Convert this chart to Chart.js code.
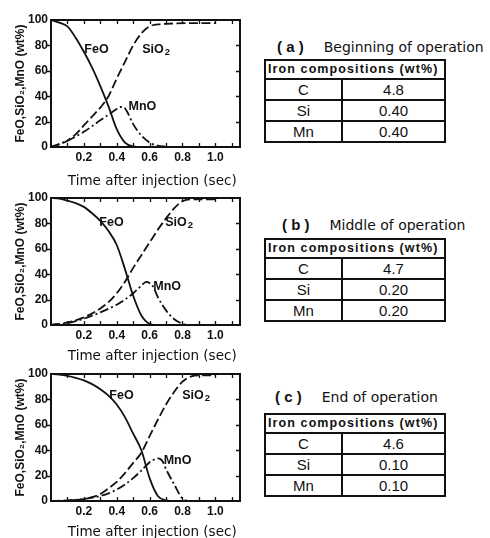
<!DOCTYPE html>
<html lang="en">
<head>
<meta charset="UTF-8">
<title>Slag composition after injection</title>
<script src="https://cdn.jsdelivr.net/npm/chart.js@4.4.0/dist/chart.umd.min.js"></script>
<style>
  body {
    margin: 0;
    width: 490px;
    height: 538px;
    position: relative;
    overflow: hidden;
    background: #fff;
    color: #111;
    font-family: "Liberation Sans", Arial, sans-serif;
  }
  .plot { position: absolute; left: 0; }
  .caption {
    position: absolute;
    font-family: "DejaVu Sans", sans-serif;
    font-size: 14px;
    white-space: nowrap;
    line-height: 18px;
  }
  .caption b { font-family: "Liberation Sans", Arial, sans-serif; font-size: 15px; margin-right: 20px; }
  table.comp {
    position: absolute;
    left: 264px;
    width: 182px;
    border-collapse: collapse;
    border: 2px solid #111;
  }
  table.comp td {
    border: 2px solid #111;
    padding: 0;
    text-align: center;
    font-size: 15px;
    line-height: 17px;
    height: 19px;
    white-space: nowrap;
  }
  table.comp td.head {
    font-weight: bold;
    font-size: 12.5px;
    letter-spacing: 1.1px;
    text-align: left;
    padding-left: 2px;
    height: 16px;
  }
  table.comp td.el { width: 75px; }
</style>
</head>
<body>

<canvas id="chartA" class="plot" width="245" height="190" style="top:0px"></canvas>
<canvas id="chartB" class="plot" width="245" height="187" style="top:178px"></canvas>
<canvas id="chartC" class="plot" width="245" height="187" style="top:354px"></canvas>

<script>
// slag composition (wt%) vs time after injection (sec), as [t, value] pairs
const feoA  = [[0,100],[0.05,98],[0.1,95],[0.15,86],[0.2,75],[0.25,62.5],[0.3,48],[0.35,32],[0.4,14],[0.45,3.5],[0.5,0.5],[0.55,0],[1.0,0]];
const sio2A = [[0,0],[0.05,2],[0.1,5],[0.15,10],[0.2,17],[0.25,24],[0.3,31],[0.35,40],[0.4,54],[0.45,67],[0.5,80],[0.55,89.5],[0.6,95],[0.65,96.5],[0.7,97],[0.85,97.5],[1.0,97.5]];
const mnoA  = [[0,0],[0.1,5],[0.2,12],[0.3,21],[0.35,25.5],[0.4,30],[0.42,31.5],[0.44,31.5],[0.46,28.5],[0.5,18],[0.55,9],[0.6,3.5],[0.65,1],[0.7,0.3],[0.75,0],[1.0,0]];

const feoB  = [[0,100],[0.05,99.5],[0.1,98],[0.15,96],[0.2,93],[0.25,88],[0.3,82],[0.35,74],[0.4,63],[0.45,44],[0.5,23],[0.55,7.5],[0.6,1],[0.65,0],[1.0,0]];
const sio2B = [[0,0],[0.1,2],[0.2,6],[0.3,13],[0.35,18],[0.4,25],[0.45,34],[0.5,45],[0.55,55],[0.6,65],[0.65,75],[0.7,84],[0.75,92],[0.8,97.5],[0.85,99],[1.0,99]];
const mnoB  = [[0,0],[0.1,1.5],[0.2,5],[0.3,10],[0.4,16],[0.45,20],[0.5,25],[0.55,31],[0.58,34],[0.6,33],[0.62,30.5],[0.65,22],[0.7,11.5],[0.75,4.5],[0.8,1],[0.85,0],[1.0,0]];

const feoC  = [[0,100],[0.05,99.5],[0.1,98.5],[0.15,97],[0.2,95],[0.25,92],[0.3,88],[0.35,83],[0.4,76],[0.45,66],[0.5,53],[0.55,40],[0.6,18],[0.65,4],[0.7,0.5],[0.75,0],[1.0,0]];
const sio2C = [[0,0],[0.1,0.5],[0.2,1.5],[0.25,3],[0.3,5.5],[0.35,10],[0.4,15],[0.45,22],[0.5,30],[0.55,38],[0.6,51],[0.65,64],[0.7,76],[0.75,86],[0.8,94],[0.85,98],[0.9,99],[1.0,99]];
const mnoC  = [[0,0],[0.1,0.3],[0.2,1.5],[0.3,4],[0.35,6],[0.4,9],[0.45,13],[0.5,18],[0.55,24],[0.6,30.5],[0.625,32.5],[0.65,33.5],[0.675,32],[0.7,25],[0.75,13],[0.8,2],[0.85,0],[1.0,0]];

// curve names, placed at [t, wt%]
const tagsA = [['FeO',0.277,77],['SiO₂',0.64,77],['MnO',0.556,31.6]];
const tagsB = [['FeO',0.368,81],['SiO₂',0.78,81],['MnO',0.707,30]];
const tagsC = [['FeO',0.429,83],['SiO₂',0.883,83],['MnO',0.77,32]];

// iron composition tables
const elements = ['C', 'Si', 'Mn'];
const ironA = ['4.8', '0.40', '0.40'];
const ironB = ['4.7', '0.20', '0.20'];
const ironC = ['4.6', '0.10', '0.10'];

const xTickLabels = [0.2, 0.4, 0.6, 0.8, 1.0];
const yTickLabels = [0, 20, 40, 60, 80, 100];

const INK = '#111';
const SANS = '"Liberation Sans", Arial, sans-serif';

// frame with small ticks: inward on top/right/bottom, outward on the left
const framePlugin = {
  id: 'frame',
  afterDraw(chart) {
    const { ctx, chartArea: a, scales: { x, y } } = chart;
    ctx.save();
    ctx.strokeStyle = INK;
    ctx.lineWidth = 2;
    ctx.strokeRect(a.left, a.top, a.right - a.left, a.bottom - a.top);
    ctx.lineWidth = 1.3;
    ctx.beginPath();
    for (let k = 1; k <= 11; k++) {
      const px = Math.round(x.getPixelForValue(k / 10)) + 0.5;
      ctx.moveTo(px, a.top); ctx.lineTo(px, a.top + 4);
      ctx.moveTo(px, a.bottom); ctx.lineTo(px, a.bottom - 4);
    }
    for (let v = 20; v < 100; v += 20) {
      const py = Math.round(y.getPixelForValue(v)) + 0.5;
      ctx.moveTo(a.left, py); ctx.lineTo(a.left - 4, py);
      ctx.moveTo(a.right, py); ctx.lineTo(a.right - 4, py);
    }
    ctx.stroke();
    ctx.restore();
  }
};

// curve names next to the lines
const tagPlugin = {
  id: 'tags',
  afterDatasetsDraw(chart, args, opts) {
    const { ctx, scales: { x, y } } = chart;
    ctx.save();
    ctx.fillStyle = INK;
    ctx.textBaseline = 'middle';
    ctx.textAlign = 'left';
    opts.items.forEach(([text, t, v]) => {
      const cx = x.getPixelForValue(t);
      const cy = y.getPixelForValue(v);
      let base = text, sub = '';
      if (text.endsWith('₂')) { base = text.slice(0, -1); sub = '2'; }
      ctx.font = 'bold 12.5px ' + SANS;
      const w1 = ctx.measureText(base).width;
      ctx.font = 'bold 9.5px ' + SANS;
      const w2 = sub ? ctx.measureText(sub).width + 1 : 0;
      const x0 = cx - (w1 + w2) / 2;
      ctx.font = 'bold 12.5px ' + SANS;
      ctx.fillText(base, x0, cy);
      if (sub) {
        ctx.font = 'bold 9.5px ' + SANS;
        ctx.fillText(sub, x0 + w1 + 1, cy + 3);
      }
    });
    ctx.restore();
  }
};

function line(points, dash) {
  return {
    data: points.map(([t, v]) => ({ x: t, y: v })),
    borderColor: INK,
    borderWidth: 1.8,
    borderDash: dash,
    pointRadius: 0,
    fill: false,
    cubicInterpolationMode: 'monotone'
  };
}

function makeChart(id, feo, sio2, mno, tags, axisHeight) {
  return new Chart(document.getElementById(id), {
    type: 'line',
    data: {
      datasets: [
        line(feo, []),
        line(sio2, [9, 3.5]),
        line(mno, [9, 3, 2, 3])
      ]
    },
    options: {
      responsive: false,
      animation: false,
      layout: { padding: { top: 20, right: 5, left: 0, bottom: 0 } },
      plugins: {
        legend: { display: false },
        tooltip: { enabled: false },
        tags: { items: tags }
      },
      scales: {
        x: {
          type: 'linear',
          min: 0,
          max: 1.15,
          grid: { display: false, drawTicks: false },
          border: { display: false },
          afterBuildTicks: s => { s.ticks = xTickLabels.map(v => ({ value: v })); },
          ticks: {
            autoSkip: false,
            maxRotation: 0,
            padding: 3,
            color: INK,
            font: { family: SANS, size: 12, weight: 'bold' },
            callback: v => v.toFixed(1)
          },
          title: {
            display: true,
            // two en spaces nudge the centred title a little to the right
            text: '\u2002\u2002Time after injection (sec)',
            color: INK,
            padding: 0,
            font: { family: '"DejaVu Sans", sans-serif', size: 13.5 }
          },
          afterFit: s => { s.height = axisHeight; }
        },
        y: {
          min: 0,
          max: 100,
          grid: { display: false, drawTicks: false },
          border: { display: false },
          afterBuildTicks: s => { s.ticks = yTickLabels.map(v => ({ value: v })); },
          ticks: {
            padding: 3,
            color: INK,
            font: { family: SANS, size: 12, weight: 'bold' },
            callback: v => String(v)
          },
          title: {
            display: true,
            text: 'FeO,SiO₂,MnO (wt%)',
            color: INK,
            padding: { top: 13, bottom: 0 },
            font: { family: SANS, size: 12, weight: 'bold' }
          },
          afterFit: s => { s.width = 51; }
        }
      }
    },
    plugins: [framePlugin, tagPlugin]
  });
}

makeChart('chartA', feoA, sio2A, mnoA, tagsA, 43);
makeChart('chartB', feoB, sio2B, mnoB, tagsB, 40);
makeChart('chartC', feoC, sio2C, mnoC, tagsC, 40);

// caption + composition table for each stage
function addTable(letter, title, values, capTop, capLeft, tableTop) {
  const cap = document.createElement('div');
  cap.className = 'caption';
  cap.style.top = capTop + 'px';
  cap.style.left = capLeft + 'px';
  cap.innerHTML = '<b>( ' + letter + ' )</b>' + title;
  document.body.appendChild(cap);

  const tbl = document.createElement('table');
  tbl.className = 'comp';
  tbl.style.top = tableTop + 'px';
  let html = '<tr><td class="head" colspan="2">Iron compositions (wt%)</td></tr>';
  elements.forEach((el, i) => {
    html += '<tr><td class="el">' + el + '</td><td>' + values[i] + '</td></tr>';
  });
  tbl.innerHTML = html;
  document.body.appendChild(tbl);
}

addTable('a', 'Beginning of operation', ironA, 38, 277, 59);
addTable('b', 'Middle of operation', ironB, 216, 282, 238);
addTable('c', 'End of operation', ironC, 388, 275, 413);
</script>
</body>
</html>
